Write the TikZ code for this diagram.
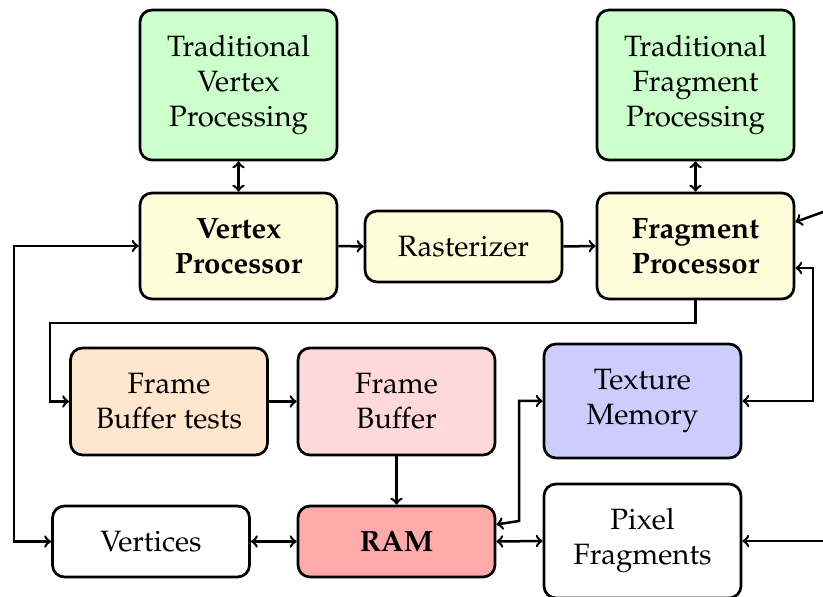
\documentclass[tikz,border=0pt]{standalone}
\usepackage[T1]{fontenc}
\usepackage{mathpazo}
\usetikzlibrary{calc}

\definecolor{tradgreen}{HTML}{CCFFCC}
\definecolor{procyellow}{HTML}{FFFCD9}
\definecolor{testorange}{HTML}{FFE6CC}
\definecolor{bufpink}{HTML}{FFD9D9}
\definecolor{texblue}{HTML}{CCCCFF}
\definecolor{ramred}{HTML}{FFAAAA}

\tikzset{
  box/.style={draw, line width=1.35pt, rounded corners=6pt, align=center,
    minimum width=98.5pt, inner sep=2pt,
    font=\fontsize{14.7}{17.5}\selectfont},
  tallbox/.style={box, minimum height=75pt},
  procbox/.style={box, minimum height=53pt},
  bufbox/.style={box, minimum height=53.5pt},
  membox/.style={box, minimum height=57pt},
  lowbox/.style={box, minimum height=35.5pt},
  link/.style={line width=1.25pt, -to},
  dlink/.style={line width=1.25pt, to-to},
}

\begin{document}
\begin{tikzpicture}[x=0.5pt, y=-0.5pt]
  \useasboundingbox (0,0) rectangle (823,597);
  \clip (0,0) rectangle (823,597);

  % pipeline stages
  \node[tallbox, fill=tradgreen] (tvp) at (238.5,85) {Traditional\\Vertex\\Processing};
  \node[tallbox, fill=tradgreen] (tfp) at (695.5,85) {Traditional\\Fragment\\Processing};
  \node[procbox, fill=procyellow] (vp) at (238.5,246) {\textbf{Vertex}\\\textbf{Processor}};
  \node[lowbox, fill=procyellow] (ras) at (463.5,246.5) {Rasterizer};
  \node[procbox, fill=procyellow] (fp) at (695.5,246) {\textbf{Fragment}\\\textbf{Processor}};

  % buffers and memory
  \node[bufbox, fill=testorange] (fbt) at (169,401.5) {Frame\\Buffer tests};
  \node[bufbox, fill=bufpink] (fb) at (396.5,401.5) {Frame\\Buffer};
  \node[membox, fill=texblue] (tm) at (642.5,401) {Texture\\Memory};
  \node[lowbox, fill=white] (vert) at (151,541.5) {Vertices};
  \node[lowbox, fill=ramred] (ram) at (396.5,541.5) {\textbf{RAM}};
  \node[membox, fill=white] (pf) at (642.5,541) {Pixel\\Fragments};

  % routing points
  \coordinate (fpdrop) at (50,323);
  \coordinate (leftrail) at (14,246);
  \coordinate (texrail) at (519,521);
  \coordinate (fprail) at (813,268);
  \coordinate (fromtop) at (845,204);
  \coordinate (fromright) at (860,541);

  % connectors
  \draw[dlink] (tvp.south) -- (vp.north);
  \draw[dlink] (tfp.south) -- (fp.north);
  \draw[link] (vp.east) -- (ras.west);
  \draw[link] (ras.east) -- (fp.west);
  \draw[link] (fp.south) |- (fpdrop) |- (fbt.west);
  \draw[link] (fbt.east) -- (fb.west);
  \draw[link] (fb.south) -- (ram.north);
  \draw[dlink] (vert.east) -- (ram.west);
  \draw[dlink] (ram.east) -- (pf.west);
  \draw[dlink] (vp.west) -- (leftrail) |- (vert.west);
  \draw[dlink] ([yshift=8.5pt]ram.east) -- (texrail) |- (tm.west);
  \draw[dlink] ([yshift=-11pt]fp.east) -| (fprail) |- (tm.east);
  \draw[link] (fromtop) -- ([yshift=12pt]fp.east);
  \draw[link] (fromright) -- (pf.east);
\end{tikzpicture}
\end{document}
